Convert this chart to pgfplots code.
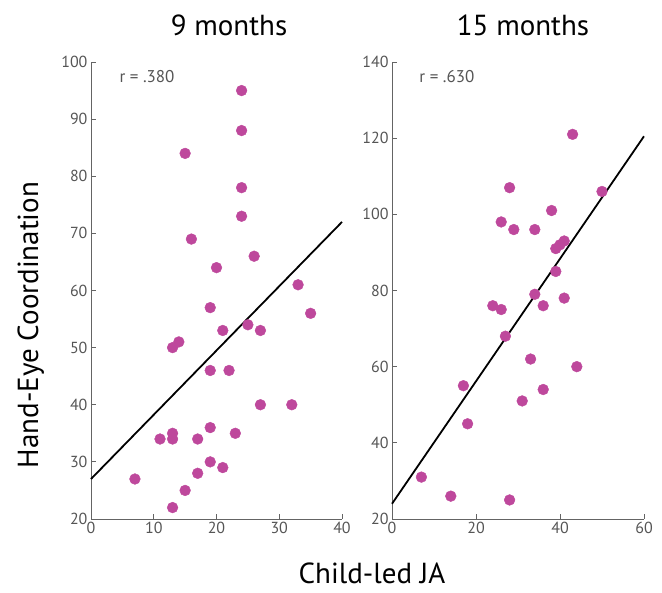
\documentclass[border=0pt]{standalone}
\usepackage{fontspec}
\setmainfont{PT Sans}
\usepackage{pgfplots}
\pgfplotsset{compat=1.18}
\definecolor{dotc}{RGB}{190,72,156}
\definecolor{axc}{RGB}{100,100,100}
\definecolor{tkc}{RGB}{85,85,85}
\pgfplotsset{
  myax/.style={
    scale only axis,
    height=457pt,
    axis lines=left,
    axis line style={-, draw=axc, line width=0.9pt},
    tick style={draw=axc, line width=0.9pt},
    tick align=inside,
    major tick length=5pt,
    tick label style={font=\fontsize{16}{16}\selectfont, text=tkc},
    /pgf/number format/assume math mode=true,
    clip=false,
  },
}
\begin{document}
\begin{tikzpicture}
\useasboundingbox (0,0) rectangle (662pt,593pt);
% Left panel: 9 months
\begin{axis}[myax, at={(91pt,74pt)}, anchor=south west, width=251pt,
  xmin=0, xmax=40, ymin=20, ymax=100,
  xtick={0,10,20,30,40}, ytick={20,30,40,50,60,70,80,90,100}]
\addplot[black, line width=1.8pt] coordinates {(0,27) (40,72)};
\addplot[only marks, mark=*, mark size=5.4pt, color=dotc, mark options={draw=dotc, fill=dotc}] coordinates {
(24,95) (24,88) (15,84) (24,78) (24,73) (16,69) (26,66) (20,64) (33,61) (19,57) (35,56)
(25,54) (21,53) (27,53) (14,51) (13,50) (19,46) (22,46) (27,40) (32,40) (19,36) (13,35)
(11,34) (13,34) (17,34) (23,35) (19,30) (21,29) (17,28) (7,27) (15,25) (13,22)};
\node[anchor=west, text=tkc, font=\fontsize{17}{17}\selectfont] at (axis description cs:0.1,0.969) {r = .380};
\node[anchor=base, font=\fontsize{29}{29}\selectfont] at (axis description cs:0.55,1.059) {9 months};
\end{axis}
% Right panel: 15 months
\begin{axis}[myax, at={(392pt,74pt)}, anchor=south west, width=252pt,
  xmin=0, xmax=60, ymin=20, ymax=140,
  xtick={0,20,40,60}, ytick={20,40,60,80,100,120,140}]
\addplot[black, line width=1.8pt] coordinates {(0,24) (60,120.5)};
\addplot[only marks, mark=*, mark size=5.4pt, color=dotc, mark options={draw=dotc, fill=dotc}] coordinates {
(43,121) (50,106) (28,107) (38,101) (26,98) (29,96) (34,96) (41,93) (40,92) (39,91) (39,85)
(34,79) (41,78) (36,76) (24,76) (26,75) (27,68) (33,62) (44,60) (17,55) (36,54) (31,51)
(18,45) (7,31) (14,26) (28,25)};
\node[anchor=west, text=tkc, font=\fontsize{17}{17}\selectfont] at (axis description cs:0.095,0.969) {r = .630};
\node[anchor=base, font=\fontsize{29}{29}\selectfont] at (axis description cs:0.52,1.059) {15 months};
\end{axis}
\node[rotate=90, anchor=base, font=\fontsize{29}{29}\selectfont] at (38pt,268pt) {Hand-Eye Coordination};
\node[anchor=base, font=\fontsize{29}{29}\selectfont] at (372pt,9pt) {Child-led JA};
\end{tikzpicture}
\end{document}
